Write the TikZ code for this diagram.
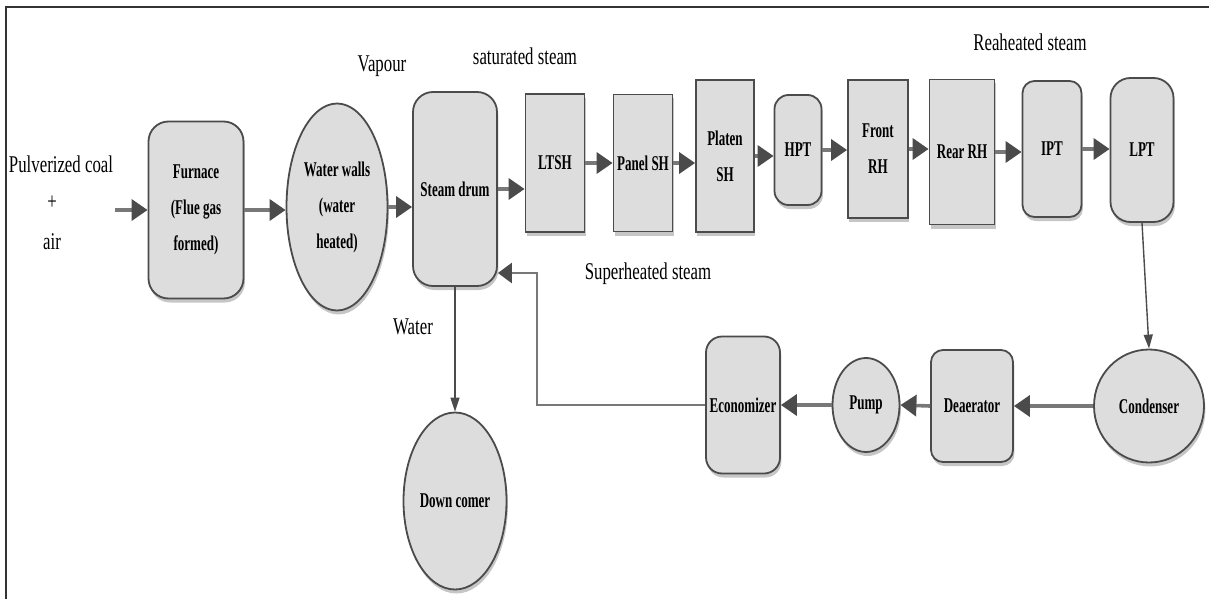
\documentclass[tikz,border=0pt]{standalone}
\usepackage{fontspec}
\setmainfont{Liberation Serif}[FakeStretch=0.7]
\newfontfamily\boxfont{Liberation Serif}[FakeStretch=0.62]
\usetikzlibrary{shapes.geometric,shadows,arrows.meta}
\definecolor{boxgray}{RGB}{221,221,221}
\definecolor{edgegray}{RGB}{75,75,75}
\definecolor{flowgray}{RGB}{120,120,120}
\tikzset{
  unit/.style={draw=edgegray, line width=0.9pt, fill=boxgray, align=center, inner sep=0pt,
    drop shadow={shadow xshift=0.7pt, shadow yshift=-2pt, opacity=0.45},
    font=\boxfont\bfseries\fontsize{10.5}{18}\selectfont},
  block/.style={unit, rectangle},
  rblock/.style={unit, rectangle, rounded corners=#1},
  rblock/.default=9pt,
  vessel/.style={unit, ellipse},
  note/.style={font=\fontsize{12}{14}\selectfont, inner sep=0pt},
  flow/.style={draw=flowgray, line width=1.8pt, -{Triangle[length=8pt,width=10.5pt,color=edgegray]}},
  ret/.style={draw=flowgray, line width=1.3pt, -{Triangle[length=7pt,width=10pt,color=edgegray]}},
  pipe/.style={draw=edgegray, line width=0.7pt, -{Triangle[length=7pt,width=4.5pt,color=edgegray]}}
}

\begin{document}
\begin{tikzpicture}[x=0.5pt,y=-0.5pt]
\useasboundingbox (0,0) rectangle (1209,599);
\draw [line width=1.2pt, black!80] (6,599) -- (6,7) -- (1209,7);

% boiler side
\node[rblock=10pt, minimum width=47.5pt, minimum height=88.5pt] (furnace) at (196,210) {Furnace\\(Flue gas\\formed)};
\node[vessel, minimum width=50.5pt, minimum height=103.5pt] (walls) at (337,207) {Water walls\\(water\\heated)};
\node[rblock=10pt, minimum width=42pt, minimum height=97pt] (drum) at (455,189) {Steam drum};
\node[vessel, minimum width=51.5pt, minimum height=88.5pt] (downcomer) at (455,501) {Down comer};

% superheaters and turbines
\node[block, minimum width=29.5pt, minimum height=69pt] (ltsh) at (555,163) {LTSH};
\node[block, minimum width=29.5pt, minimum height=68.5pt] (panel) at (643,163) {Panel SH};
\node[block, minimum width=29pt, minimum height=76pt] (platen) at (725,156) {Platen\\SH};
\node[rblock=7pt, minimum width=23.5pt, minimum height=55pt] (hpt) at (798,150) {HPT};
\node[block, minimum width=30pt, minimum height=69pt] (frontrh) at (878,149) {Front\\RH};
\node[block, minimum width=32.5pt, minimum height=72.5pt] (rearrh) at (962,152) {Rear RH};
\node[rblock=6pt, minimum width=29.5pt, minimum height=68pt] (ipt) at (1052,149) {IPT};
\node[rblock=10pt, minimum width=31.5pt, minimum height=72pt] (lpt) at (1142,150) {LPT};

% feed water loop
\node[vessel, minimum width=55pt, minimum height=56.5pt] (condenser) at (1149,406) {Condenser};
\node[rblock=6pt, minimum width=41pt, minimum height=56pt] (deaerator) at (972,406) {Deaerator};
\node[vessel, minimum width=33.5pt, minimum height=47pt] (pump) at (866,405) {Pump};
\node[rblock=8pt, minimum width=37pt, minimum height=68.5pt] (economizer) at (743,405) {Economizer};

\node[note] (coal) at (61,164) {Pulverized coal};
\node[note] (plus) at (52,203) {+};
\node[note] (air) at (52,242) {air};
\node[note] (vapour) at (382,66) {Vapour};
\node[note] (satsteam) at (525,56) {saturated steam};
\node[note] (supsteam) at (648,274) {Superheated steam};
\node[note] (reheat) at (1030,42) {Reaheated steam};
\node[note] (water) at (413,327) {Water};

\coordinate (feed) at (115,210);
\coordinate (bend) at (537,273);

\draw [flow] (feed) -- (furnace.west);
\draw [flow] (furnace.east) -- (furnace.east -| walls.west);
\draw [flow] (walls.east) -- (walls.east -| drum.west);
\draw [flow] (drum.east) -- (drum.east -| ltsh.west);
\draw [flow] (ltsh.east) -- (ltsh.east -| panel.west);
\draw [flow] (panel.east) -- (panel.east -| platen.west);
\draw [flow] (platen.east) -- (platen.east -| hpt.west);
\draw [flow] (hpt.east) -- (hpt.east -| frontrh.west);
\draw [flow] (frontrh.east) -- (frontrh.east -| rearrh.west);
\draw [flow] (rearrh.east) -- (rearrh.east -| ipt.west);
\draw [flow] (ipt.east) -- (ipt.east -| lpt.west);

\draw [pipe] (lpt.south) -- (condenser.north);
\draw [flow] (condenser.west) -- (deaerator.east);
\draw [flow] (deaerator.west) -- (pump.east);
\draw [flow] (pump.west) -- (economizer.east);
\draw [ret] (economizer.west) -| (bend) -- (bend -| drum.east);
\draw [pipe] (drum.south) -- (downcomer.north);

\end{tikzpicture}
\end{document}
